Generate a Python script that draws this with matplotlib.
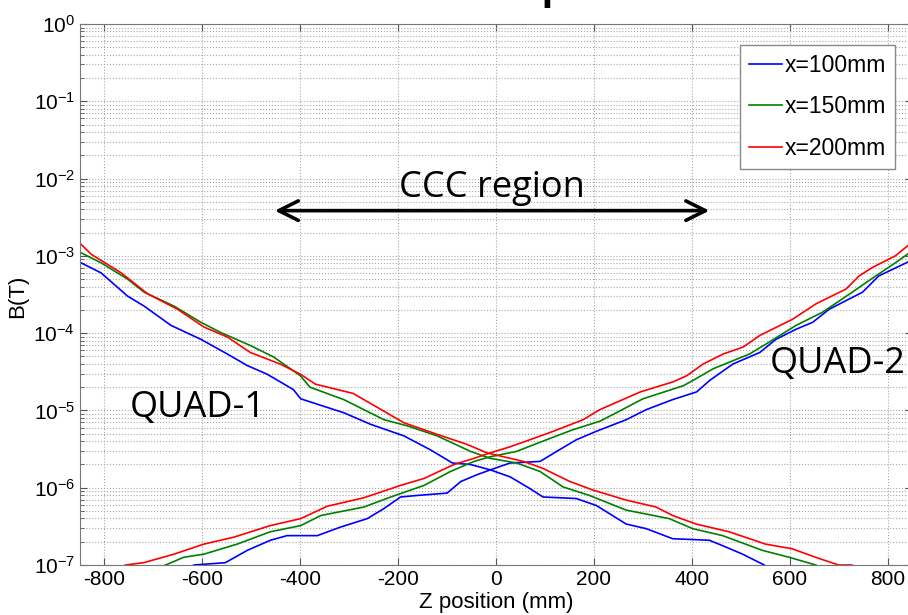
from matplotlib import pyplot as plt
import numpy as np

# z position (mm) and log10(B/T)
# QUAD-1 field (falls off to the right)
z_down_100 = [-848, -807, -753, -719, -664, -603, -549, -508, -468, -414, -399, -311, -256, -188, -134,
              -89, -52, -11, 29, 69, 96, 164, 205, 266, 307, 361, 436, 463, 504, 548, 575]
b_down_100 = [-3.09, -3.22, -3.52, -3.65, -3.90, -4.08, -4.27, -4.42, -4.53, -4.73, -4.85, -5.03, -5.18,
              -5.33, -5.51, -5.68, -5.70, -5.77, -5.86, -6.01, -6.12, -6.14, -6.23, -6.47, -6.53, -6.66,
              -6.68, -6.75, -6.86, -7.0, -7.1]
z_down_150 = [-848, -807, -753, -719, -658, -603, -563, -502, -454, -400, -380, -311, -229, -181, -120,
              -52, -12, 42, 90, 137, 191, 266, 354, 402, 463, 544, 599, 653, 690]
b_down_150 = [-2.96, -3.09, -3.30, -3.47, -3.65, -3.86, -3.99, -4.16, -4.31, -4.55, -4.70, -4.86, -5.12,
              -5.20, -5.33, -5.53, -5.62, -5.68, -5.79, -5.99, -6.10, -6.29, -6.40, -6.53, -6.62, -6.81,
              -6.90, -7.0, -7.1]
z_down_200 = [-848, -827, -766, -712, -651, -597, -549, -502, -441, -400, -369, -292, -270, -188, -120,
              -59, -18, 56, 96, 151, 198, 266, 327, 361, 409, 476, 551, 605, 653, 700, 727, 760]
b_down_200 = [-2.85, -2.98, -3.22, -3.49, -3.69, -3.92, -4.05, -4.25, -4.40, -4.53, -4.66, -4.78, -4.86,
              -5.16, -5.31, -5.44, -5.55, -5.66, -5.75, -5.92, -6.03, -6.16, -6.25, -6.36, -6.47, -6.57,
              -6.73, -6.79, -6.90, -7.0, -7.0, -7.1]

# QUAD-2 field (rises to the right)
z_up_100 = [-650, -617, -553, -508, -461, -427, -365, -318, -263, -229, -195, -161, -100, -72, -38, -12,
            29, 90, 124, 164, 205, 266, 307, 361, 410, 437, 484, 539, 572, 613, 647, 681, 749, 782, 845]
b_up_100 = [-7.1, -7.0, -6.97, -6.81, -6.68, -6.62, -6.62, -6.51, -6.40, -6.27, -6.12, -6.10, -6.07,
            -5.92, -5.83, -5.77, -5.68, -5.66, -5.53, -5.38, -5.27, -5.12, -4.99, -4.86, -4.76, -4.61,
            -4.40, -4.25, -4.08, -3.95, -3.86, -3.69, -3.47, -3.26, -3.07]
z_up_150 = [-710, -675, -638, -597, -529, -461, -399, -358, -270, -215, -147, -93, -45, -12, 42, 103,
            157, 212, 246, 300, 383, 403, 444, 518, 552, 613, 667, 728, 762, 816, 845]
b_up_150 = [-7.1, -7.0, -6.90, -6.86, -6.73, -6.57, -6.49, -6.36, -6.25, -6.12, -5.97, -5.79, -5.66,
            -5.60, -5.53, -5.38, -5.25, -5.14, -5.03, -4.85, -4.68, -4.61, -4.46, -4.27, -4.14, -3.90,
            -3.73, -3.47, -3.32, -3.09, -2.96]
z_up_200 = [-790, -757, -720, -658, -597, -536, -461, -399, -345, -270, -195, -147, -86, -45, -12, 29,
            69, 117, 178, 212, 259, 295, 362, 390, 423, 464, 505, 539, 606, 654, 715, 742, 769, 816, 845]
b_up_200 = [-7.1, -7.0, -6.97, -6.86, -6.73, -6.64, -6.49, -6.40, -6.24, -6.13, -5.97, -5.88, -5.70,
            -5.62, -5.55, -5.47, -5.38, -5.27, -5.12, -4.99, -4.86, -4.76, -4.63, -4.55, -4.40, -4.27,
            -4.18, -4.03, -3.82, -3.62, -3.43, -3.26, -3.15, -3.00, -2.85]

labels = ['x=100mm', 'x=150mm', 'x=200mm']
colors = ['#0000ff', '#008000', '#ff0000']
x_ticks = [-800, -600, -400, -200, 0, 200, 400, 600, 800]


def plot_fields(ax):
    '''Draws both quadrupole fringe fields for each x offset.'''
    down = [(z_down_100, b_down_100), (z_down_150, b_down_150), (z_down_200, b_down_200)]
    up = [(z_up_100, b_up_100), (z_up_150, b_up_150), (z_up_200, b_up_200)]
    for (zd, bd), (zu, bu), lab, col in zip(down, up, labels, colors):
        ax.plot(zd, 10 ** np.array(bd), color=col, lw=1.2, label=lab)
        ax.plot(zu, 10 ** np.array(bu), color=col, lw=1.2)


def main():
    plt.rcParams['font.family'] = ['Liberation Sans', 'DejaVu Sans']
    plt.rcParams['axes.unicode_minus'] = False

    fig = plt.figure(figsize=(9.08, 6.15), dpi=100)
    ax = fig.add_axes([80 / 908, 1 - 565 / 615, 832 / 908, 541 / 615])
    plot_fields(ax)

    ax.set_yscale('log')
    ax.set_ylim(1e-7, 1)
    ax.set_xlim(-850, 850)
    ax.set_xticks(x_ticks)
    ax.set_xticklabels([str(t) for t in x_ticks])

    ax.grid(True, which='major', linestyle=':', color='#a8a8a8', lw=0.8)
    ax.yaxis.grid(True, which='minor', linestyle=':', color='#a8a8a8', lw=0.8)
    ax.tick_params(which='both', direction='in', top=True, right=True,
                   labelsize=15, colors='#555555', labelcolor='black')
    ax.tick_params(which='major', length=5)
    ax.tick_params(which='minor', length=3)
    for sp in ax.spines.values():
        sp.set_color('#777777')

    ax.set_ylabel('B(T)', fontsize=16, va='center')
    ax.yaxis.set_label_coords(-0.0745, 0.497)
    ax.set_xlabel('Z position (mm)', fontsize=16, va='center')
    ax.xaxis.set_label_coords(0.5, -0.070)

    leg = ax.legend(loc='upper right', bbox_to_anchor=(895 / 908, 1 - 45 / 615),
                    bbox_transform=fig.transFigure, borderaxespad=0, fontsize=16.5,
                    fancybox=False, edgecolor='#888888', framealpha=1,
                    handlelength=1.45, handletextpad=0.1, labelspacing=0.8, borderpad=0.4)
    leg.get_frame().set_linewidth(1.0)

    # annotations
    ax.annotate('', xy=(-452, 10 ** -2.415), xytext=(436, 10 ** -2.415),
                arrowprops=dict(arrowstyle='<->, head_length=0.7, head_width=0.35',
                                lw=2.6, color='black', mutation_scale=20,
                                shrinkA=0, shrinkB=0))
    ax.text(-8, 10 ** -2.24, 'CCC region', family='Open Sans', fontsize=26,
            ha='center', va='baseline')
    ax.text(-748, 10 ** -5.08, 'QUAD-1', family='Open Sans', fontsize=26,
            ha='left', va='baseline')
    ax.text(560, 10 ** -4.515, 'QUAD-2', family='Open Sans', fontsize=26,
            ha='left', va='baseline')

    # slide title, mostly cut off by the top edge
    fig.text(505 / 908, 1 + 1 / 615, 'Radial component', family='Open Sans',
             fontweight='bold', fontsize=28, ha='center', va='baseline')

    fig.savefig('out.png', dpi=100)


if __name__ == '__main__':
    main()
